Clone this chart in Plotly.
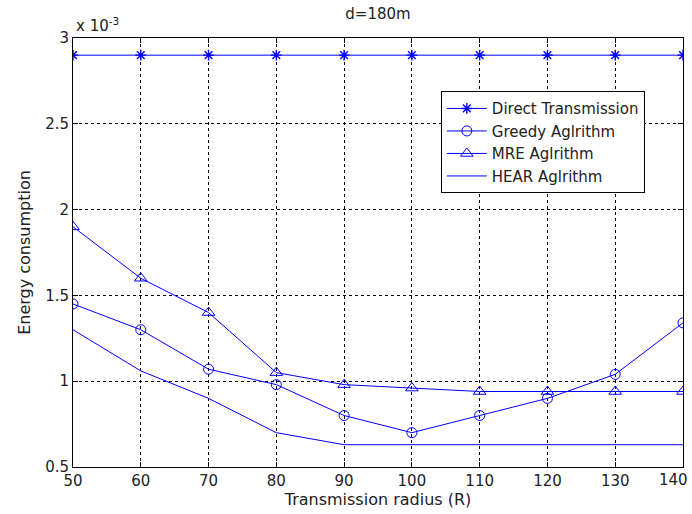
import plotly.graph_objects as go

radius = [50, 60, 70, 80, 90, 100, 110, 120, 130, 140]
direct = [2.9, 2.9, 2.9, 2.9, 2.9, 2.9, 2.9, 2.9, 2.9, 2.9]
greedy = [1.45, 1.30, 1.07, 0.98, 0.80, 0.70, 0.80, 0.90, 1.04, 1.34]
mre = [1.90, 1.60, 1.40, 1.05, 0.98, 0.96, 0.94, 0.94, 0.94, 0.94]
hear = [1.30, 1.06, 0.90, 0.70, 0.63, 0.63, 0.63, 0.63, 0.63, 0.63]
x_tick_text = ["50", "60", "70", "80", "90", "100", "110", "120", "130", "140"]
y_ticks = [0.5, 1, 1.5, 2, 2.5, 3]
y_tick_text = ["0.5", "1", "1.5", "2", "2.5", "3"]

blue = "#0000FF"
font = "DejaVu Sans, Verdana, sans-serif"
txt = "#222222"

fig = go.Figure()
fig.add_trace(go.Scatter(x=radius, y=direct, mode="lines+markers", name="Direct Transmission",
                         line=dict(color=blue, width=1),
                         marker=dict(symbol="asterisk-open", size=9, color=blue, line=dict(color=blue, width=1.4))))
fig.add_trace(go.Scatter(x=radius, y=greedy, mode="lines+markers", name="Greedy Aglrithm",
                         line=dict(color=blue, width=1),
                         marker=dict(symbol="circle-open", size=10, color=blue, line=dict(color=blue, width=1))))
fig.add_trace(go.Scatter(x=radius, y=mre, mode="lines+markers", name="MRE Aglrithm",
                         line=dict(color=blue, width=1),
                         marker=dict(symbol="triangle-up-open", size=11, color=blue, line=dict(color=blue, width=1))))
fig.add_trace(go.Scatter(x=radius, y=hear, mode="lines", name="HEAR Aglrithm",
                         line=dict(color=blue, width=1)))

axis_common = dict(showline=True, linecolor="black", linewidth=1, mirror="ticks",
                   ticks="inside", ticklen=5, tickcolor="black", automargin=False,
                   showgrid=True, gridcolor="black", gridwidth=1, griddash="3px,3px",
                   zeroline=False, tickfont=dict(family=font, size=15, color=txt))

# last x tick label is drawn as an annotation nudged left so it stays inside the page
fig.update_xaxes(range=[50, 140], tickvals=radius, ticktext=x_tick_text[:-1] + [""], **axis_common,
                 title=dict(text="Transmission radius (R)", font=dict(family=font, size=16, color=txt), standoff=2))
fig.update_yaxes(range=[0.5, 3], tickvals=y_ticks, ticktext=y_tick_text, **axis_common,
                 title=dict(text="Energy consumption", font=dict(family=font, size=16, color=txt), standoff=10))

fig.update_layout(
    width=692, height=514,
    margin=dict(l=73, r=9, t=38, b=47, autoexpand=False),
    paper_bgcolor="white", plot_bgcolor="white",
    title=dict(text="d=180m", x=(73 + 683) / 2 / 692, xanchor="center", y=1 - 14 / 514, yanchor="middle",
               font=dict(family=font, size=15, color=txt)),
    showlegend=True,
    legend=dict(x=0.603, y=0.876, xanchor="left", yanchor="top",
                bgcolor="white", bordercolor="black", borderwidth=1,
                font=dict(family=font, size=15, color=txt),
                tracegroupgap=0, itemwidth=40, entrywidth=220, entrywidthmode="pixels"),
    annotations=[
        dict(text="x 10<sup>-3</sup>", xref="paper", yref="paper", x=0.0, y=1.0,
             xanchor="left", yanchor="bottom", showarrow=False, xshift=1, yshift=1,
             font=dict(family=font, size=15, color=txt)),
        dict(text=x_tick_text[-1], xref="x", yref="paper", x=radius[-1], y=0,
             xanchor="right", yanchor="top", showarrow=False, xshift=7, yshift=-2,
             font=dict(family=font, size=15, color=txt)),
    ],
)

fig.write_html("out.html")
